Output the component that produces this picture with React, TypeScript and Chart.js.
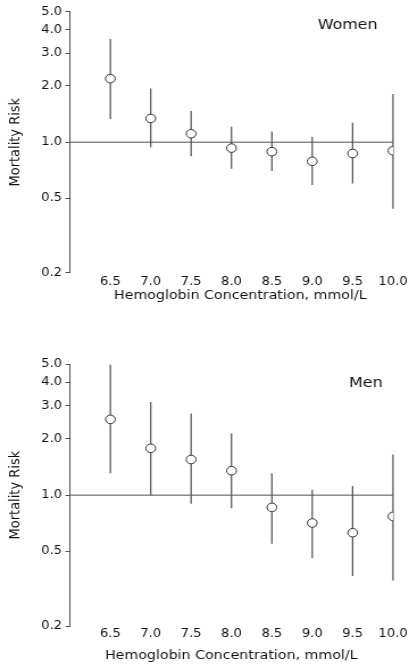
import React, { useEffect, useRef } from "react";
import { Chart, registerables } from "chart.js";

Chart.register(...registerables);

// ---- data ----
const hemoglobin = [6.5, 7.0, 7.5, 8.0, 8.5, 9.0, 9.5, 10.0];

const womenRisk = [2.19, 1.34, 1.11, 0.93, 0.89, 0.79, 0.87, 0.9];
const womenLower = [1.33, 0.94, 0.84, 0.72, 0.7, 0.59, 0.6, 0.44];
const womenUpper = [3.57, 1.94, 1.47, 1.21, 1.14, 1.07, 1.27, 1.81];

const menRisk = [2.54, 1.78, 1.55, 1.35, 0.86, 0.71, 0.63, 0.77];
const menLower = [1.31, 1.0, 0.9, 0.85, 0.55, 0.46, 0.37, 0.35];
const menUpper = [4.97, 3.14, 2.73, 2.14, 1.31, 1.07, 1.12, 1.65];

const yTickValues = [0.2, 0.5, 1.0, 2.0, 3.0, 4.0, 5.0];
const referenceRisk = 1.0;
const xMin = 6.0;
const xMax = 10.0;
const yMin = 0.2;
const yMax = 5.0;

const xTitle = "Hemoglobin Concentration, mmol/L";
const yTitle = "Mortality Risk";

// ---- styling ----
const FONT = "'DejaVu Sans', sans-serif";
const INTERNAL_W = 360;
const DISPLAY_W = 409;
const LINE = "#505050";
const TEXT = "#111111";

type PanelProps = {
  label: string;
  risk: number[];
  lower: number[];
  upper: number[];
  height: number;
  padTop: number;
  xScaleHeight: number;
  tickPad: number;
  titleX: number;
  titleY: number;
  labelX: number;
  labelY: number;
};

function Panel(props: PanelProps) {
  const ref = useRef<HTMLCanvasElement | null>(null);

  useEffect(() => {
    const canvas = ref.current;
    if (!canvas) return;

    const annotations = {
      id: "annotations",
      beforeDatasetsDraw(chart: any) {
        const { ctx, scales } = chart;
        const xs = scales.x;
        const ys = scales.y;
        ctx.save();
        ctx.strokeStyle = LINE;
        ctx.lineWidth = 1.2;
        for (let i = 0; i < hemoglobin.length; i++) {
          const x = xs.getPixelForValue(hemoglobin[i]);
          ctx.beginPath();
          ctx.moveTo(x, ys.getPixelForValue(props.lower[i]));
          ctx.lineTo(x, ys.getPixelForValue(props.upper[i]));
          ctx.stroke();
        }
        ctx.restore();
      },
      afterDraw(chart: any) {
        const { ctx } = chart;
        ctx.save();
        ctx.fillStyle = TEXT;
        ctx.textAlign = "center";
        ctx.textBaseline = "middle";
        ctx.font = `14px ${FONT}`;
        ctx.fillText(props.label, props.labelX, props.labelY);
        ctx.font = `12.5px ${FONT}`;
        ctx.fillText(xTitle, props.titleX, props.titleY);
        ctx.restore();
      },
    };

    const chart = new Chart(canvas, {
      type: "scatter",
      data: {
        datasets: [
          {
            type: "scatter",
            data: hemoglobin.map((x, i) => ({ x, y: props.risk[i] })),
            pointRadius: 4.3,
            pointBackgroundColor: "#ffffff",
            pointBorderColor: "#333333",
            pointBorderWidth: 1,
            order: 0,
          },
          {
            type: "line",
            data: [
              { x: xMin, y: referenceRisk },
              { x: xMax, y: referenceRisk },
            ],
            borderColor: LINE,
            borderWidth: 1,
            pointRadius: 0,
            fill: false,
            order: 1,
          },
        ],
      },
      options: {
        animation: false,
        responsive: false,
        events: [],
        layout: {
          padding: { top: props.padTop, right: 14.1, bottom: 0, left: 0 },
        },
        plugins: {
          legend: { display: false },
          tooltip: { enabled: false },
        },
        scales: {
          x: {
            type: "linear",
            min: xMin,
            max: xMax,
            offset: false,
            grid: { display: false, drawTicks: false, tickLength: 0 },
            border: { display: false },
            afterBuildTicks: (scale: any) => {
              scale.ticks = hemoglobin.map((v) => ({ value: v }));
            },
            afterFit: (scale: any) => {
              scale.height = props.xScaleHeight;
              scale.paddingRight = 0;
              scale.paddingLeft = 0;
            },
            ticks: {
              autoSkip: false,
              maxRotation: 0,
              padding: props.tickPad,
              color: TEXT,
              font: { family: FONT, size: 11.5 },
              callback: (v: any) => Number(v).toFixed(1),
            },
          },
          y: {
            type: "logarithmic",
            min: yMin,
            max: yMax,
            grid: {
              display: true,
              drawOnChartArea: false,
              drawTicks: true,
              tickLength: 4,
              color: LINE,
              lineWidth: 1,
            },
            border: { display: true, color: LINE, width: 1 },
            afterBuildTicks: (scale: any) => {
              scale.ticks = yTickValues.map((v) => ({ value: v }));
            },
            afterFit: (scale: any) => {
              scale.width = 61.6;
            },
            ticks: {
              padding: 3,
              color: TEXT,
              font: { family: FONT, size: 11.5 },
              callback: (v: any) => Number(v).toFixed(1),
            },
            title: {
              display: true,
              text: yTitle,
              color: TEXT,
              font: { family: FONT, size: 13 },
              padding: { top: 5.8, bottom: 0 },
            },
          },
        },
      } as any,
      plugins: [annotations],
    });

    return () => chart.destroy();
  }, [props]);

  return (
    <canvas
      ref={ref}
      width={INTERNAL_W}
      height={props.height}
      style={{ width: `${DISPLAY_W}px`, height: `${props.height}px`, display: "block" }}
    />
  );
}

const womenPanel: PanelProps = {
  label: "Women",
  risk: womenRisk,
  lower: womenLower,
  upper: womenUpper,
  height: 340,
  padTop: 11.7,
  xScaleHeight: 67.3,
  tickPad: 2.5,
  titleX: 211.5,
  titleY: 296,
  labelX: 306,
  labelY: 25,
};

const menPanel: PanelProps = {
  label: "Men",
  risk: menRisk,
  lower: menLower,
  upper: menUpper,
  height: 326,
  padTop: 24.3,
  xScaleHeight: 40,
  tickPad: 0.8,
  titleX: 203.6,
  titleY: 315.7,
  labelX: 322,
  labelY: 43,
};

export default function App() {
  useEffect(() => {
    document.body.style.margin = "0";
  }, []);
  return (
    <div style={{ width: `${DISPLAY_W}px`, background: "#ffffff" }}>
      <Panel {...womenPanel} />
      <Panel {...menPanel} />
    </div>
  );
}
